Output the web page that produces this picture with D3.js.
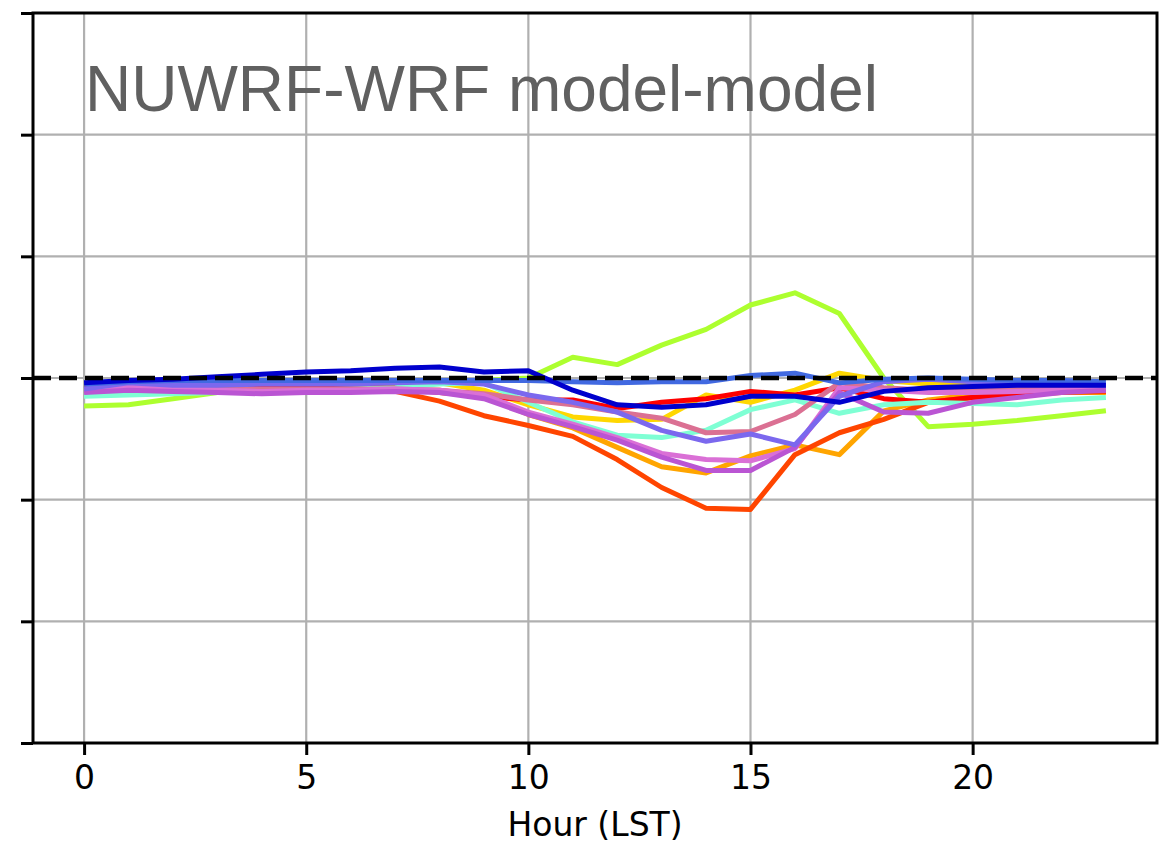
<!DOCTYPE html>
<html>
<head>
<meta charset="utf-8">
<script src="https://cdn.jsdelivr.net/npm/d3@7"></script>
<style>
  body { margin: 0; background: #fff; }
</style>
</head>
<body>
<svg class="chart"></svg>
<script>
var width = 1163,
    height = 844,
    margin = {
        top: 13,
        right: 6,
        bottom: 101,
        left: 33
    }

// hours 0..23
var hours = d3.range(0, 24)
var xTicks = [0, 5, 10, 15, 20]
var yTicks = [-3, -2, -1, 0, 1, 2, 3]
var titleText = "NUWRF-WRF model-model"
var xLabel = "Hour (LST)"

var seriesNames = ["greenyellow", "gold", "orange", "orangered", "red", "aquamarine",
    "palevioletred", "orchid", "mediumorchid", "mediumslateblue", "royalblue", "mediumblue"]

var greenyellow = [-0.23, -0.22, -0.17, -0.12, -0.10, -0.08, -0.07, -0.05, -0.03, -0.02, 0.00, 0.17,
    0.11, 0.27, 0.40, 0.60, 0.70, 0.53, 0.00, -0.40, -0.38, -0.35, -0.31, -0.27]
var gold = [-0.06, -0.05, -0.04, -0.04, -0.04, -0.04, -0.04, -0.04, -0.04, -0.10, -0.22, -0.32,
    -0.35, -0.34, -0.14, -0.20, -0.10, 0.04, -0.02, -0.05, -0.06, -0.06, -0.07, -0.08]
var orange = [-0.10, -0.10, -0.10, -0.10, -0.10, -0.10, -0.10, -0.10, -0.10, -0.15, -0.30, -0.41,
    -0.57, -0.73, -0.78, -0.64, -0.55, -0.63, -0.27, -0.18, -0.14, -0.12, -0.12, -0.12]
var orangered = [-0.10, -0.10, -0.11, -0.11, -0.11, -0.11, -0.11, -0.11, -0.19, -0.31, -0.39, -0.48,
    -0.67, -0.90, -1.07, -1.08, -0.63, -0.45, -0.34, -0.20, -0.16, -0.14, -0.12, -0.11]
var red = [-0.08, -0.08, -0.08, -0.08, -0.08, -0.08, -0.08, -0.08, -0.12, -0.15, -0.18, -0.18,
    -0.25, -0.20, -0.17, -0.11, -0.14, -0.08, -0.17, -0.20, -0.16, -0.13, -0.10, -0.09]
var aquamarine = [-0.15, -0.14, -0.13, -0.12, -0.11, -0.10, -0.09, -0.08, -0.05, -0.04, -0.20, -0.36,
    -0.47, -0.49, -0.43, -0.26, -0.18, -0.29, -0.22, -0.20, -0.21, -0.22, -0.18, -0.16]
var palevioletred = [-0.09, -0.08, -0.09, -0.09, -0.09, -0.09, -0.09, -0.09, -0.10, -0.13, -0.18, -0.22,
    -0.28, -0.33, -0.45, -0.44, -0.30, -0.04, -0.08, -0.10, -0.10, -0.09, -0.08, -0.08]
var orchid = [-0.10, -0.07, -0.09, -0.10, -0.11, -0.10, -0.10, -0.09, -0.10, -0.14, -0.28, -0.38,
    -0.49, -0.62, -0.67, -0.68, -0.58, -0.08, -0.10, -0.12, -0.12, -0.11, -0.10, -0.10]
var mediumorchid = [-0.12, -0.10, -0.11, -0.12, -0.13, -0.12, -0.12, -0.11, -0.12, -0.17, -0.30, -0.40,
    -0.51, -0.65, -0.76, -0.76, -0.57, -0.12, -0.28, -0.29, -0.20, -0.16, -0.12, -0.10]
var mediumslateblue = [-0.09, -0.04, -0.06, -0.06, -0.05, -0.05, -0.05, -0.04, -0.03, -0.05, -0.14, -0.20,
    -0.28, -0.43, -0.52, -0.46, -0.55, -0.15, -0.03, -0.01, -0.03, -0.04, -0.05, -0.06]
var royalblue = [-0.05, -0.03, -0.02, -0.02, -0.02, -0.02, -0.02, -0.02, -0.02, -0.02, -0.02, -0.03,
    -0.04, -0.03, -0.03, 0.02, 0.04, -0.04, -0.01, 0.00, -0.01, -0.02, -0.02, -0.03]
var mediumblue = [-0.04, -0.02, -0.01, 0.01, 0.03, 0.05, 0.06, 0.08, 0.09, 0.05, 0.06, -0.10,
    -0.22, -0.24, -0.22, -0.15, -0.15, -0.20, -0.11, -0.08, -0.07, -0.06, -0.06, -0.06]

var seriesValues = [greenyellow, gold, orange, orangered, red, aquamarine,
    palevioletred, orchid, mediumorchid, mediumslateblue, royalblue, mediumblue]

var series = seriesNames.map((name, i) => ({ name: name, values: seriesValues[i] }))

var svg = d3.select(".chart")
    .attr("width", width)
    .attr("height", height)

var xScale = d3.scaleLinear()
    .domain([-1.15, 24.15])
    .range([margin.left, width - margin.right])
var yScale = d3.scaleLinear()
    .domain([-3, 3])
    .range([height - margin.bottom, margin.top])

// grid
var grid = svg.append("g")
    .attr("stroke", "#b0b0b0")
    .attr("stroke-width", 2.2)
grid.selectAll("line.gx")
    .data(xTicks)
    .join("line")
    .attr("class", "gx")
    .attr("x1", d => xScale(d)).attr("x2", d => xScale(d))
    .attr("y1", yScale(3)).attr("y2", yScale(-3))
grid.selectAll("line.gy")
    .data(yTicks.slice(1, -1))
    .join("line")
    .attr("class", "gy")
    .attr("x1", xScale.range()[0]).attr("x2", xScale.range()[1])
    .attr("y1", d => yScale(d)).attr("y2", d => yScale(d))

// clip for the lines
svg.append("clipPath")
    .attr("id", "plot")
    .append("rect")
    .attr("x", margin.left)
    .attr("y", margin.top)
    .attr("width", width - margin.left - margin.right)
    .attr("height", height - margin.top - margin.bottom)

var line = d3.line()
    .x((d, i) => xScale(hours[i]))
    .y(d => yScale(d))

svg.append("g")
    .attr("class", "lines")
    .attr("clip-path", "url(#plot)")
    .attr("fill", "none")
    .attr("stroke-width", 5)
    .attr("stroke-linejoin", "round")
    .attr("stroke-linecap", "butt")
    .selectAll("path")
    .data(series)
    .join("path")
    .attr("stroke", d => d.name)
    .attr("d", d => line(d.values))

// zero line
svg.append("line")
    .attr("x1", xScale.range()[0]).attr("x2", xScale.range()[1])
    .attr("y1", yScale(0)).attr("y2", yScale(0))
    .attr("stroke", "#000")
    .attr("stroke-width", 4.5)
    .attr("stroke-dasharray", "18,8")

// axes
var xAxisCall = d3.axisBottom(xScale)
    .tickValues(xTicks)
    .tickSize(12)
    .tickSizeOuter(0)
    .tickPadding(11)
var yAxisCall = d3.axisLeft(yScale)
    .tickValues(yTicks)
    .tickSize(12)
    .tickSizeOuter(0)
    .tickFormat("")

svg.append("g")
    .attr("class", "x axis")
    .attr("transform", `translate(0,${height - margin.bottom})`)
    .call(xAxisCall)
    .call(g => g.select(".domain").remove())
    .call(g => g.selectAll(".tick line").attr("stroke-width", 3))
    .call(g => g.selectAll(".tick text")
        .attr("font-family", "DejaVu Sans")
        .attr("font-size", 33)
        .attr("fill", "#000"))

svg.append("g")
    .attr("class", "y axis")
    .attr("transform", `translate(${margin.left},0)`)
    .call(yAxisCall)
    .call(g => g.select(".domain").remove())
    .call(g => g.selectAll(".tick line").attr("stroke-width", 3))

// frame
svg.append("rect")
    .attr("x", margin.left)
    .attr("y", margin.top)
    .attr("width", width - margin.left - margin.right)
    .attr("height", height - margin.top - margin.bottom)
    .attr("fill", "none")
    .attr("stroke", "#000")
    .attr("stroke-width", 3)

svg.append("text")
    .attr("x", (xScale.range()[0] + xScale.range()[1]) / 2)
    .attr("y", 836)
    .attr("text-anchor", "middle")
    .attr("font-family", "DejaVu Sans")
    .attr("font-size", 33)
    .text(xLabel)

svg.append("text")
    .attr("x", 85)
    .attr("y", 111)
    .attr("font-family", "Liberation Sans, Arial")
    .attr("font-size", 64)
    .attr("fill", "#606060")
    .text(titleText)
</script>
</body>
</html>
